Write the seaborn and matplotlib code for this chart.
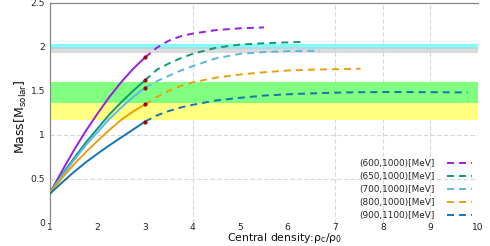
import numpy as np
import pandas as pd
import matplotlib
matplotlib.use("Agg")
import matplotlib.pyplot as plt
import seaborn as sns

# parameter sets (legend labels)
labels = ["(600,1000)[MeV]", "(650,1000)[MeV]", "(700,1000)[MeV]",
          "(800,1000)[MeV]", "(900,1100)[MeV]"]
colors = ["#9a1ee0", "#0f9a74", "#5cb6ea", "#e8a010", "#1274b4"]

# solid part (rho_c/rho_0 from 1 to 3)
solid_x = [1.0, 1.25, 1.5, 1.75, 2.0, 2.25, 2.5, 2.75, 3.0]
solid_y = [
    [0.34, 0.585, 0.82, 1.04, 1.24, 1.43, 1.60, 1.75, 1.88],
    [0.34, 0.545, 0.73, 0.91, 1.07, 1.23, 1.37, 1.50, 1.62],
    [0.34, 0.53, 0.71, 0.88, 1.03, 1.18, 1.31, 1.43, 1.535],
    [0.34, 0.505, 0.66, 0.80, 0.93, 1.055, 1.17, 1.265, 1.345],
    [0.33, 0.455, 0.575, 0.685, 0.785, 0.88, 0.97, 1.06, 1.15],
]

# dashed part (from 3 upward)
dash_x = [
    [3.0, 3.25, 3.5, 3.75, 4.0, 4.5, 5.0, 5.5],
    [3.0, 3.25, 3.5, 3.75, 4.0, 4.5, 5.0, 5.5, 6.0, 6.3],
    [3.0, 3.25, 3.5, 3.75, 4.0, 4.5, 5.0, 5.5, 6.0, 6.68],
    [3.0, 3.25, 3.5, 3.75, 4.0, 4.5, 5.0, 5.5, 6.0, 6.5, 7.0, 7.53],
    [3.0, 3.25, 3.5, 3.75, 4.0, 4.5, 5.0, 5.5, 6.0, 6.5, 7.0, 7.5, 8.0,
     8.5, 9.0, 9.5, 9.78],
]
dash_y = [
    [1.88, 1.99, 2.07, 2.12, 2.15, 2.19, 2.21, 2.22],
    [1.62, 1.74, 1.81, 1.87, 1.92, 1.99, 2.025, 2.04, 2.05, 2.055],
    [1.535, 1.61, 1.67, 1.73, 1.78, 1.87, 1.92, 1.94, 1.95, 1.955],
    [1.345, 1.43, 1.50, 1.555, 1.595, 1.65, 1.685, 1.71, 1.73, 1.74,
     1.745, 1.75],
    [1.15, 1.22, 1.27, 1.31, 1.34, 1.39, 1.42, 1.445, 1.46, 1.47, 1.478,
     1.483, 1.485, 1.485, 1.484, 1.482, 1.48],
]

# observational bands (mass ranges)
bands = [(1.17, 1.36, "#ffff80", 1.0), (1.36, 1.60, "#80ff80", 1.0),
         (1.97, 2.03, "#80ffff", 1.0), (1.93, 2.00, "#c8c8c8", 0.65)]

sns.set_style("white")
plt.rcParams['font.family'] = ['DejaVu Sans']

fig = plt.figure(figsize=(4.9, 2.46), dpi=100)
ax = fig.add_axes([0.102, 0.0947, 0.8735, 0.894])

for lo, hi, c, a in bands:
    ax.axhspan(lo, hi, color=c, alpha=a, lw=0, zorder=1)

for i in range(5):
    sns.lineplot(x=solid_x, y=solid_y[i], color=colors[i], lw=1.4,
                 ax=ax, zorder=3, sort=False)
    sns.lineplot(x=dash_x[i], y=dash_y[i], color=colors[i], lw=1.4,
                 ax=ax, zorder=3, sort=False,
                 label=labels[i]).lines[-1].set_dashes([3.6, 2.6])

dots = pd.DataFrame({"x": [3.0] * 5, "y": [s[-1] for s in solid_y]})
sns.scatterplot(data=dots, x="x", y="y", color="#a00000", s=9, lw=0,
                ax=ax, zorder=4)

ax.set_xlim(1, 10)
ax.set_ylim(0, 2.5)
ax.set_xticks(range(1, 11))
ax.set_yticks([0, 0.5, 1, 1.5, 2, 2.5])
ax.set_yticklabels(["0", "0.5", "1", "1.5", "2", "2.5"])

for gx in [4, 7, 8, 9]:
    ax.axvline(gx, color="#d8d8d8", lw=0.8, ls=(0, (4, 2)), zorder=0)
for gy in [0.5, 1, 1.5, 2]:
    ax.axhline(gy, color="#d8d8d8", lw=0.8, ls=(0, (4, 2)), zorder=0)

for s in ["right", "bottom"]:
    ax.spines[s].set_visible(False)
for s in ["left", "top"]:
    ax.spines[s].set_color("#888888")
    ax.spines[s].set_linewidth(0.9)

ax.tick_params(axis="both", labelsize=6.6, colors="#222222", length=2,
               width=0.6, pad=1.5)
ax.tick_params(axis="x", length=0, pad=0)

ax.set_xlabel("Central density:ρ$_{\\rm c}$/ρ$_0$", fontsize=7.8,
              color="#111111")
ax.xaxis.set_label_coords(0.547, -0.102)
ax.xaxis.label.set_va("bottom")
ax.set_ylabel("Mass[M$_{\\rm solar}$]", fontsize=9, color="#111111")
ax.yaxis.set_label_coords(-0.048, 0.48)

leg = ax.legend(loc="lower right", bbox_to_anchor=(0.986, 0.012),
                frameon=False, markerfirst=False, fontsize=6.4,
                handlelength=2.8, handletextpad=1.4, labelspacing=0.45,
                borderaxespad=0, borderpad=0)

fig.savefig("out.png", dpi=100)
